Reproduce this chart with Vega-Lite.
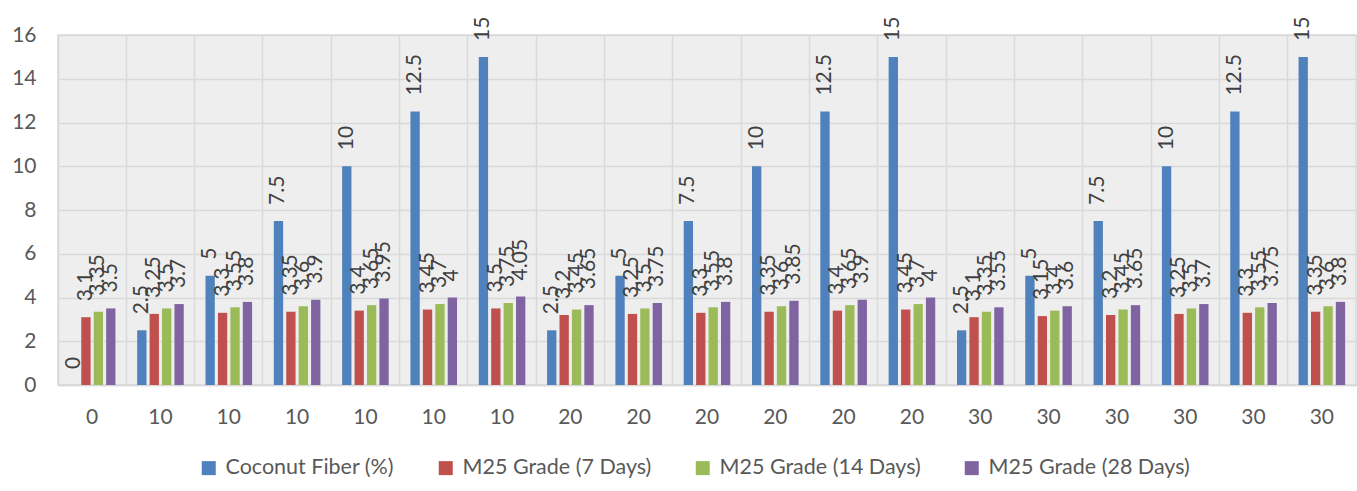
{
  "$schema": "https://vega.github.io/schema/vega-lite/v6.json",
  "width": 1298,
  "height": 350,
  "autosize": {"type": "none"},
  "padding": {"left": 58, "top": 35, "right": 1, "bottom": 106},
  "background": "#ffffff",
  "config": {
    "font": "Lato",
    "view": {"fill": "#eeeeee", "stroke": "#d9d9d9", "strokeWidth": 1.5},
    "axis": {"labelFont": "Lato", "labelColor": "#595959", "labelFontSize": 21, "gridColor": "#d9d9d9", "gridWidth": 1.5, "domainColor": "#d9d9d9", "ticks": false, "tickSize": 0, "title": null},
    "legend": {"labelFont": "Lato", "labelColor": "#595959", "labelFontSize": 21.5, "labelLimit": 0}
  },
  "data": {
    "values": [
      {"g": "0|01", "Coconut Fiber (%)": 0, "M25 Grade (7 Days)": 3.1, "M25 Grade (14 Days)": 3.35, "M25 Grade (28 Days)": 3.5},
      {"g": "10|02", "Coconut Fiber (%)": 2.5, "M25 Grade (7 Days)": 3.25, "M25 Grade (14 Days)": 3.5, "M25 Grade (28 Days)": 3.7},
      {"g": "10|03", "Coconut Fiber (%)": 5, "M25 Grade (7 Days)": 3.3, "M25 Grade (14 Days)": 3.55, "M25 Grade (28 Days)": 3.8},
      {"g": "10|04", "Coconut Fiber (%)": 7.5, "M25 Grade (7 Days)": 3.35, "M25 Grade (14 Days)": 3.6, "M25 Grade (28 Days)": 3.9},
      {"g": "10|05", "Coconut Fiber (%)": 10, "M25 Grade (7 Days)": 3.4, "M25 Grade (14 Days)": 3.65, "M25 Grade (28 Days)": 3.95},
      {"g": "10|06", "Coconut Fiber (%)": 12.5, "M25 Grade (7 Days)": 3.45, "M25 Grade (14 Days)": 3.7, "M25 Grade (28 Days)": 4},
      {"g": "10|07", "Coconut Fiber (%)": 15, "M25 Grade (7 Days)": 3.5, "M25 Grade (14 Days)": 3.75, "M25 Grade (28 Days)": 4.05},
      {"g": "20|08", "Coconut Fiber (%)": 2.5, "M25 Grade (7 Days)": 3.2, "M25 Grade (14 Days)": 3.45, "M25 Grade (28 Days)": 3.65},
      {"g": "20|09", "Coconut Fiber (%)": 5, "M25 Grade (7 Days)": 3.25, "M25 Grade (14 Days)": 3.5, "M25 Grade (28 Days)": 3.75},
      {"g": "20|10", "Coconut Fiber (%)": 7.5, "M25 Grade (7 Days)": 3.3, "M25 Grade (14 Days)": 3.55, "M25 Grade (28 Days)": 3.8},
      {"g": "20|11", "Coconut Fiber (%)": 10, "M25 Grade (7 Days)": 3.35, "M25 Grade (14 Days)": 3.6, "M25 Grade (28 Days)": 3.85},
      {"g": "20|12", "Coconut Fiber (%)": 12.5, "M25 Grade (7 Days)": 3.4, "M25 Grade (14 Days)": 3.65, "M25 Grade (28 Days)": 3.9},
      {"g": "20|13", "Coconut Fiber (%)": 15, "M25 Grade (7 Days)": 3.45, "M25 Grade (14 Days)": 3.7, "M25 Grade (28 Days)": 4},
      {"g": "30|14", "Coconut Fiber (%)": 2.5, "M25 Grade (7 Days)": 3.1, "M25 Grade (14 Days)": 3.35, "M25 Grade (28 Days)": 3.55},
      {"g": "30|15", "Coconut Fiber (%)": 5, "M25 Grade (7 Days)": 3.15, "M25 Grade (14 Days)": 3.4, "M25 Grade (28 Days)": 3.6},
      {"g": "30|16", "Coconut Fiber (%)": 7.5, "M25 Grade (7 Days)": 3.2, "M25 Grade (14 Days)": 3.45, "M25 Grade (28 Days)": 3.65},
      {"g": "30|17", "Coconut Fiber (%)": 10, "M25 Grade (7 Days)": 3.25, "M25 Grade (14 Days)": 3.5, "M25 Grade (28 Days)": 3.7},
      {"g": "30|18", "Coconut Fiber (%)": 12.5, "M25 Grade (7 Days)": 3.3, "M25 Grade (14 Days)": 3.55, "M25 Grade (28 Days)": 3.75},
      {"g": "30|19", "Coconut Fiber (%)": 15, "M25 Grade (7 Days)": 3.35, "M25 Grade (14 Days)": 3.6, "M25 Grade (28 Days)": 3.8}
    ]
  },
  "transform": [
    {"fold": ["Coconut Fiber (%)", "M25 Grade (7 Days)", "M25 Grade (14 Days)", "M25 Grade (28 Days)"], "as": ["series", "value"]}
  ],
  "encoding": {
    "x": {"field": "g", "type": "nominal", "sort": null, "scale": {"paddingInner": 0, "paddingOuter": 0}},
    "xOffset": {"field": "series", "type": "nominal", "sort": ["Coconut Fiber (%)", "M25 Grade (7 Days)", "M25 Grade (14 Days)", "M25 Grade (28 Days)"], "scale": {"paddingInner": 0.25, "paddingOuter": 0.875}},
    "y": {"field": "value", "type": "quantitative", "scale": {"domain": [0, 16], "nice": false}, "axis": {"values": [0, 2, 4, 6, 8, 10, 12, 14, 16], "domain": false, "labelPadding": 22, "grid": true}}
  },
  "layer": [
    {
      "mark": {"type": "bar"},
      "encoding": {
        "x": {"field": "g", "type": "nominal", "sort": null, "axis": {"grid": false, "labelAngle": 0, "labelPadding": 21, "labelExpr": "split(datum.label, '|')[0]", "domain": true, "domainWidth": 1.5}},
        "color": {
          "field": "series", "type": "nominal",
          "scale": {"domain": ["Coconut Fiber (%)", "M25 Grade (7 Days)", "M25 Grade (14 Days)", "M25 Grade (28 Days)"], "range": ["#4f81bd", "#c0504d", "#9bbb59", "#8064a2"]},
          "legend": {"title": null, "orient": "none", "direction": "horizontal", "legendX": 140, "legendY": 422, "symbolType": "square", "symbolSize": 196, "symbolStrokeWidth": 0, "labelOffset": 6, "columnPadding": 40}
        }
      }
    },
    {
      "mark": {"type": "text", "angle": 270, "align": "left", "baseline": "middle", "dx": 16, "fontSize": 21, "color": "#404040"},
      "encoding": {
        "x": {"field": "g", "type": "nominal", "sort": null, "axis": {"grid": true, "bandPosition": 0, "labels": false, "domain": false, "ticks": false}},
        "text": {"field": "value", "type": "quantitative"}
      }
    }
  ],
  "resolve": {"axis": {"x": "independent"}}
}
